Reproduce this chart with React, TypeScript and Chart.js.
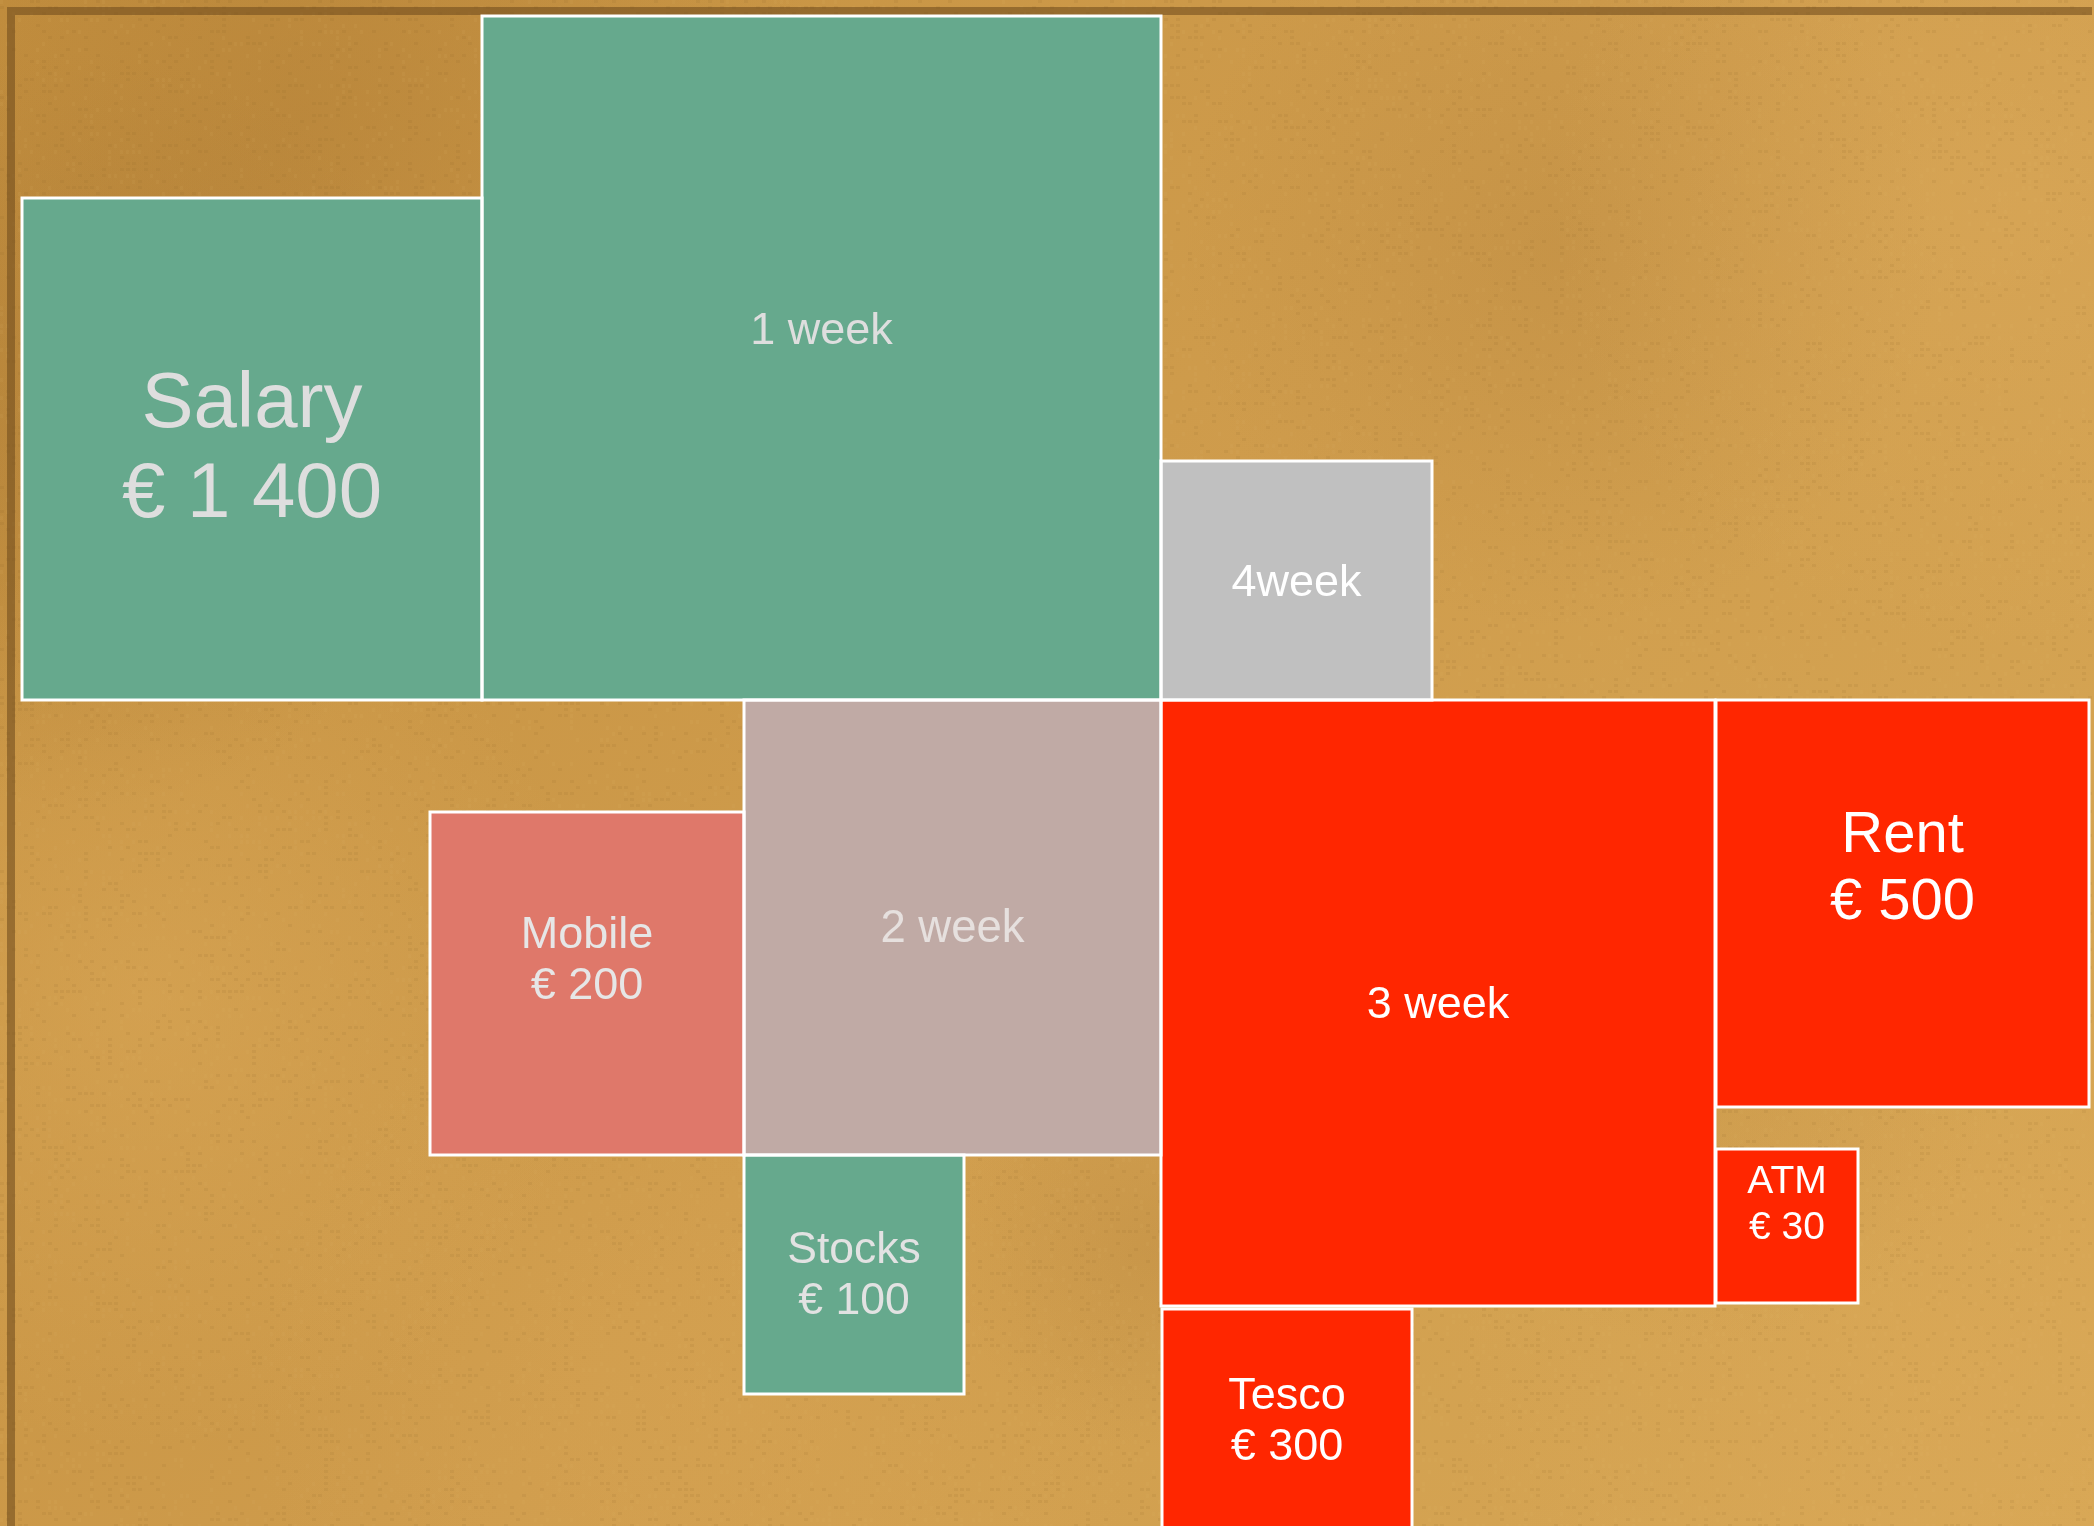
import { useEffect, useRef } from 'react';
import { Chart, registerables } from 'chart.js';

Chart.register(...registerables);

const W = 2094;
const H = 1526;

// Blocks of the money-flow board
const names = ['1 week', 'Salary', '4week', '2 week', 'Mobile', 'Stocks', '3 week', 'Rent', 'ATM', 'Tesco'];
const amounts = ['', '€ 1 400', '', '', '€ 200', '€ 100', '', '€ 500', '€ 30', '€ 300'];
const xStart = [482, 22, 1161, 744, 430, 744, 1161, 1716, 1716, 1162];
const xEnd = [1161, 482, 1432, 1161, 744, 964, 1715, 2089, 1858, 1412];
const yStart = [16, 198, 461, 700, 812, 1155, 700, 700, 1149, 1309];
const yEnd = [700, 700, 700, 1155, 1155, 1394, 1306, 1107, 1303, 1530];

// styles
const fillColors = ['#66a98d', '#66a98d', '#c0c0c0', '#c0aaa5', '#df786a', '#66a98d', '#ff2600', '#ff2600', '#ff2600', '#ff2600'];
const textColors = ['#dedede', '#dedede', '#ffffff', '#e6e0de', '#e6e6e6', '#e2e2e2', '#ffffff', '#ffffff', '#ffffff', '#ffffff'];
const fontSizes = [45, 78, 45, 45.5, 45, 44.5, 45, 58, 39, 45];
const lineGaps = [0, 90, 0, 0, 51, 51, 0, 67, 46, 51];
const labelShift = [-26, 1, 3, 2, -22, 2, 3, -34, -21, 3];

function drawBackground(ctx: CanvasRenderingContext2D) {
  ctx.save();
  const base = ctx.createLinearGradient(0, 0, W, H);
  base.addColorStop(0, '#c4903f');
  base.addColorStop(0.5, '#cf9c4c');
  base.addColorStop(1, '#d7a755');
  ctx.fillStyle = base;
  ctx.fillRect(0, 0, W, H);

  const blobs: [number, number, number, string][] = [
    [300, 120, 520, 'rgba(160,110,45,0.30)'],
    [80, 430, 380, 'rgba(150,105,45,0.28)'],
    [1560, 250, 380, 'rgba(165,115,50,0.22)'],
    [150, 1000, 450, 'rgba(225,175,95,0.40)'],
    [2000, 200, 450, 'rgba(222,172,95,0.35)'],
    [1950, 1350, 500, 'rgba(222,170,90,0.35)'],
    [700, 1400, 450, 'rgba(220,168,88,0.30)'],
    [1150, 1250, 200, 'rgba(170,120,55,0.22)'],
    [1700, 1050, 300, 'rgba(175,125,55,0.18)'],
  ];
  for (const [cx, cy, r, c] of blobs) {
    const g = ctx.createRadialGradient(cx, cy, 0, cx, cy, r);
    g.addColorStop(0, c);
    g.addColorStop(1, c.replace(/[\d.]+\)$/, '0)'));
    ctx.fillStyle = g;
    ctx.fillRect(0, 0, W, H);
  }
  // subtle deterministic paper grain
  for (let gy = 0; gy < H; gy += 6) {
    for (let gx = 0; gx < W; gx += 6) {
      const h = Math.sin(gx * 12.9898 + gy * 78.233) * 43758.5453;
      const f = h - Math.floor(h);
      if (f > 0.82) {
        ctx.fillStyle = 'rgba(140,95,35,0.10)';
        ctx.fillRect(gx, gy, 4, 3);
      } else if (f < 0.12) {
        ctx.fillStyle = 'rgba(235,195,120,0.08)';
        ctx.fillRect(gx, gy, 3, 4);
      }
    }
  }
  // frame shadow line
  ctx.fillStyle = 'rgba(115,78,30,0.6)';
  ctx.fillRect(7, 7, 2085, 8);
  ctx.fillRect(7, 15, 8, H - 15);
  ctx.restore();
}

const blocksPlugin = {
  id: 'blocks',
  beforeDatasetsDraw(chart: any) {
    const ctx: CanvasRenderingContext2D = chart.ctx;
    const xs = chart.scales.x;
    const ys = chart.scales.y;
    drawBackground(ctx);
    ctx.save();
    for (let i = 0; i < names.length; i++) {
      const x0 = xs.getPixelForValue(xStart[i]);
      const x1 = xs.getPixelForValue(xEnd[i]);
      const y0 = ys.getPixelForValue(yStart[i]);
      const y1 = ys.getPixelForValue(yEnd[i]);
      ctx.fillStyle = fillColors[i];
      ctx.fillRect(x0, y0, x1 - x0, y1 - y0);
    }
    ctx.strokeStyle = '#ffffff';
    ctx.lineWidth = 3;
    for (let i = 0; i < names.length; i++) {
      const x0 = xs.getPixelForValue(xStart[i]);
      const x1 = xs.getPixelForValue(xEnd[i]);
      const y0 = ys.getPixelForValue(yStart[i]);
      const y1 = ys.getPixelForValue(yEnd[i]);
      ctx.strokeRect(x0, y0, x1 - x0, y1 - y0);
    }
    ctx.textAlign = 'center';
    ctx.textBaseline = 'middle';
    for (let i = 0; i < names.length; i++) {
      const cx = xs.getPixelForValue((xStart[i] + xEnd[i]) / 2);
      const cy = ys.getPixelForValue((yStart[i] + yEnd[i]) / 2) + labelShift[i];
      ctx.fillStyle = textColors[i];
      ctx.font = `${fontSizes[i]}px "Liberation Sans", Arial, sans-serif`;
      if (amounts[i]) {
        ctx.fillText(names[i], cx, cy - lineGaps[i] / 2);
        ctx.fillText(amounts[i], cx, cy + lineGaps[i] / 2);
      } else {
        ctx.fillText(names[i], cx, cy);
      }
    }
    ctx.restore();
  },
};

export default function App() {
  const ref = useRef<HTMLCanvasElement | null>(null);
  useEffect(() => {
    if (!ref.current) return;
    const chart = new Chart(ref.current, {
      type: 'scatter',
      data: {
        datasets: [
          {
            label: 'blocks',
            data: names.map((_, i) => ({ x: (xStart[i] + xEnd[i]) / 2, y: (yStart[i] + yEnd[i]) / 2 })),
            pointRadius: 0,
            pointHoverRadius: 0,
          },
        ],
      },
      options: {
        responsive: false,
        animation: false,
        layout: { padding: 0 },
        plugins: { legend: { display: false }, tooltip: { enabled: false } },
        scales: {
          x: { type: 'linear', min: 0, max: W, display: false },
          y: { type: 'linear', min: 0, max: H, reverse: true, display: false },
        },
      },
      plugins: [blocksPlugin],
    });
    return () => chart.destroy();
  }, []);
  return (
    <div style={{ position: 'fixed', left: 0, top: 0, width: W, height: H }}>
      <canvas ref={ref} width={W} height={H} style={{ display: 'block', width: W, height: H }} />
    </div>
  );
}
